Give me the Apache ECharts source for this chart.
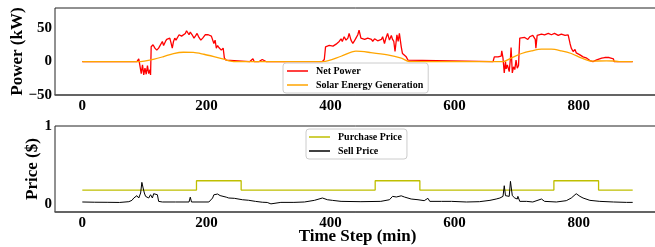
<!DOCTYPE html>
<html><head><meta charset="utf-8">
<script src="https://cdn.jsdelivr.net/npm/echarts@6/dist/echarts.min.js"></script>
<style>html,body{margin:0;padding:0;background:#fff}#c{width:655px;height:247px}</style>
</head><body><div id="c"></div>
<script>
// ---- data ----
const netX = [0,88,91,93,95,97,99,101,103,105,107,109,110,111,114,117,120,123,125,129,131,134,136,139,141,143,145,147,149,151,153,156,158,160,163,166,168,170,172,174,177,180,183,185,188,191,194,196,198,200,203,206,208,210,212,214,216,218,220,222,224,226,227,229,232,235,270,272,275,277,285,287,290,293,296,
387,390,392,395,398,401,404,406,409,411,414,417,419,422,425,428,430,433,436,438,441,444,446,449,452,455,457,460,463,466,468,471,473,476,479,482,484,487,489,492,495,498,500,502,504,507,509,511,514,516,519,522,525,527,
662,664,670,675,676,678,680,682,683,685,686,688,690,691,693,695,697,699,701,703,705,708,713,718,721,726,730,731,733,740,745,751,756,761,767,772,778,783,786,788,791,794,796,799,802,807,813,818,823,829,837,842,849,852,856,857,887];
const netY = [0,0,4,2,-18,-5,-20,-10,-19,-6,-18,-12,-20,22,25,20,17,20,22,30,24,30,33,31,35,28,20,30,35,32,33,40,42,38,37,42,46,43,40,44,40,35,39,42,36,32,35,37,40,41,40,40,38,39,27,32,20,24,21,20,17,18,20,5,2,0,0,1,4,0,0,2,3,1,0,
0,3,22,20,24,25,23,22,26,27,30,34,30,37,32,35,42,32,27,30,35,40,47,35,37,33,32,35,36,33,30,34,35,31,30,33,37,27,34,42,32,39,33,30,15,40,30,42,22,12,10,7,2,0,
0,7,7,8,16,5,-17,0,-11,-5,-6,-15,5,21,-17,-8,-12,2,-10,-6,35,36,36,33,37,39,33,20,39,41,40,42,40,42,39,41,39,40,27,20,15,18,13,15,10,7,5,1.5,0,2.5,5,6,6,5,4,0,0];

const solarX = [0,94,100,116,131,147,163,179,196,212,228,239,244,388,417,441,465,492,514,527,678,691,708,724,740,756,772,788,805,821,830,845,856,865,887];
const solarY = [0,0,0.5,3.5,7.4,11.9,13.9,13.7,10.9,7.4,3.5,0.5,0,0,7.9,15.5,13.4,9.9,5,0,0,5,12,16,18.5,18.5,16,12,5,0.5,0.8,1,0.8,0,0];

const purchaseX = [0,184,256,472,544,760,832,887];
const purchaseY = [0.18,0.3,0.18,0.3,0.18,0.3,0.18,0.18];

const sellX = [0,20,40,60,75,80,83,86,88,91,94,96,98,100,102,105,107,110,113,115,118,121,123,129,150,172,174,176,204,210,212,215,218,222,225,232,236,245,258,268,279,290,298,304,306,320,341,358,374,387,395,403,417,449,481,495,500,506,514,519,530,541,551,557,560,562,579,595,
619,640,657,667,673,678,680,682,685,688,690,693,697,701,702,705,716,726,740,745,764,780,788,796,802,807,818,834,856,877,887];
const sellY = [0.028,0.025,0.024,0.022,0.032,0.049,0.079,0.057,0.109,0.079,0.143,0.279,0.207,0.143,0.1,0.121,0.079,0.121,0.079,0.134,0.143,0.121,0.036,0.028,0.028,0.028,0.09,0.028,0.028,0.079,0.12,0.143,0.13,0.11,0.1,0.09,0.079,0.075,0.057,0.05,0.036,0.025,0.022,0.004,0.023,0.023,0.023,0.028,0.049,0.079,0.057,0.049,0.036,0.032,0.036,0.057,0.1,0.092,0.107,0.092,0.066,0.057,0.045,0.075,0.036,0.028,0.036,0.036,
0.028,0.032,0.049,0.066,0.079,0.1,0.236,0.109,0.092,0.1,0.292,0.109,0.079,0.066,0.1,0.036,0.036,0.028,0.066,0.036,0.028,0.045,0.079,0.134,0.1,0.079,0.049,0.036,0.028,0.023,0.023];

const xTicks = [0,200,400,600,800];
const yTicksTop = [-50,0,50];
const yTicksBottom = [0,1];

// ---- chart ----
const pairs = (xs, ys) => xs.map((x, i) => [x, ys[i]]);
const FONT = '"Liberation Serif","Times New Roman",serif';
const near = (v, arr) => arr.some(t => Math.abs(v - t) < 1e-6);
const fmtNum = v => (v < 0 ? '\u2212' + Math.abs(Math.round(v)) : String(Math.round(v)));

const xAxisBase = (gi) => ({
  type: 'value', gridIndex: gi, min: -44, max: 931, interval: 1,
  axisLine: { show: true, onZero: false, lineStyle: { color: '#555', width: 1.5 } },
  axisTick: { show: false }, splitLine: { show: false },
  axisLabel: { color: '#000', fontFamily: FONT, fontWeight: 'bold', fontSize: 15, margin: 4,
    formatter: v => near(v, xTicks) ? String(Math.round(v)) : '' }
});

const chart = echarts.init(document.getElementById('c'), null, { renderer: 'canvas' });
chart.setOption({
  animation: false,
  backgroundColor: '#fff',
  grid: [
    { left: 55, top: 8, width: 605, height: 87, show: true, borderColor: '#222', borderWidth: 1, backgroundColor: 'transparent', containLabel: false, outerBoundsMode: 'none' },
    { left: 55, top: 126, width: 605, height: 86, show: true, borderColor: '#222', borderWidth: 1, backgroundColor: 'transparent', containLabel: false, outerBoundsMode: 'none' }
  ],
  xAxis: [
    xAxisBase(0),
    Object.assign(xAxisBase(1), {
      name: 'Time Step (min)', nameLocation: 'middle', nameGap: 16, nameMoveOverlap: false,
      nameTextStyle: { color: '#000', fontFamily: FONT, fontWeight: 'bold', fontSize: 17 }
    })
  ],
  yAxis: [
    { type: 'value', gridIndex: 0, min: -50, max: 80, interval: 50,
      name: 'Power (kW)', nameLocation: 'middle', nameGap: 29, nameRotate: 90, nameMoveOverlap: false,
      nameTextStyle: { color: '#000', fontFamily: FONT, fontWeight: 'bold', fontSize: 17 },
      axisLine: { show: false }, axisTick: { show: false }, splitLine: { show: false },
      axisLabel: { color: '#000', fontFamily: FONT, fontWeight: 'bold', fontSize: 15, margin: 3,
        formatter: v => near(v, yTicksTop) ? fmtNum(v) : '' } },
    { type: 'value', gridIndex: 1, min: -0.1, max: 1, interval: 0.1,
      name: 'Price ($)', nameLocation: 'middle', nameGap: 13.5, nameRotate: 90, nameMoveOverlap: false,
      nameTextStyle: { color: '#000', fontFamily: FONT, fontWeight: 'bold', fontSize: 17 },
      axisLine: { show: false }, axisTick: { show: false }, splitLine: { show: false },
      axisLabel: { color: '#000', fontFamily: FONT, fontWeight: 'bold', fontSize: 15, margin: 3,
        formatter: v => near(v, yTicksBottom) ? fmtNum(v) : '' } }
  ],
  legend: [
    { data: ['Net Power', 'Solar Energy Generation'], orient: 'vertical', left: 283, top: 63,
      padding: [2, 5, 2, 4], itemGap: 2, itemWidth: 21, itemHeight: 1.5, icon: 'rect',
      borderColor: '#ccc', borderWidth: 1, borderRadius: 3, backgroundColor: 'rgba(255,255,255,0.8)',
      textStyle: { color: '#000', fontFamily: FONT, fontWeight: 'bold', fontSize: 10, lineHeight: 12, padding: [0, 0, 0, 3] } },
    { data: ['Purchase Price', 'Sell Price'], orient: 'vertical', left: 306, top: 129,
      padding: [2, 5, 2, 3], itemGap: 2, itemWidth: 21, itemHeight: 1.5, icon: 'rect',
      borderColor: '#ccc', borderWidth: 1, borderRadius: 3, backgroundColor: 'rgba(255,255,255,0.8)',
      textStyle: { color: '#000', fontFamily: FONT, fontWeight: 'bold', fontSize: 10, lineHeight: 12, padding: [0, 0, 0, 3] } }
  ],
  series: [
    { name: 'Net Power', type: 'line', xAxisIndex: 0, yAxisIndex: 0, data: pairs(netX, netY),
      showSymbol: false, symbol: 'none', color: '#ff0000', lineStyle: { width: 1.3, color: '#ff0000' } },
    { name: 'Solar Energy Generation', type: 'line', xAxisIndex: 0, yAxisIndex: 0, data: pairs(solarX, solarY),
      showSymbol: false, symbol: 'none', smooth: 0.3, color: '#ffa500', lineStyle: { width: 1.3, color: '#ffa500' } },
    { name: 'Purchase Price', type: 'line', xAxisIndex: 1, yAxisIndex: 1, data: pairs(purchaseX, purchaseY),
      step: 'end', showSymbol: false, symbol: 'none', color: '#bfbf00', lineStyle: { width: 1.3, color: '#bfbf00' } },
    { name: 'Sell Price', type: 'line', xAxisIndex: 1, yAxisIndex: 1, data: pairs(sellX, sellY),
      showSymbol: false, symbol: 'none', color: '#000', lineStyle: { width: 1, color: '#000' } }
  ]
});
</script></body></html>
